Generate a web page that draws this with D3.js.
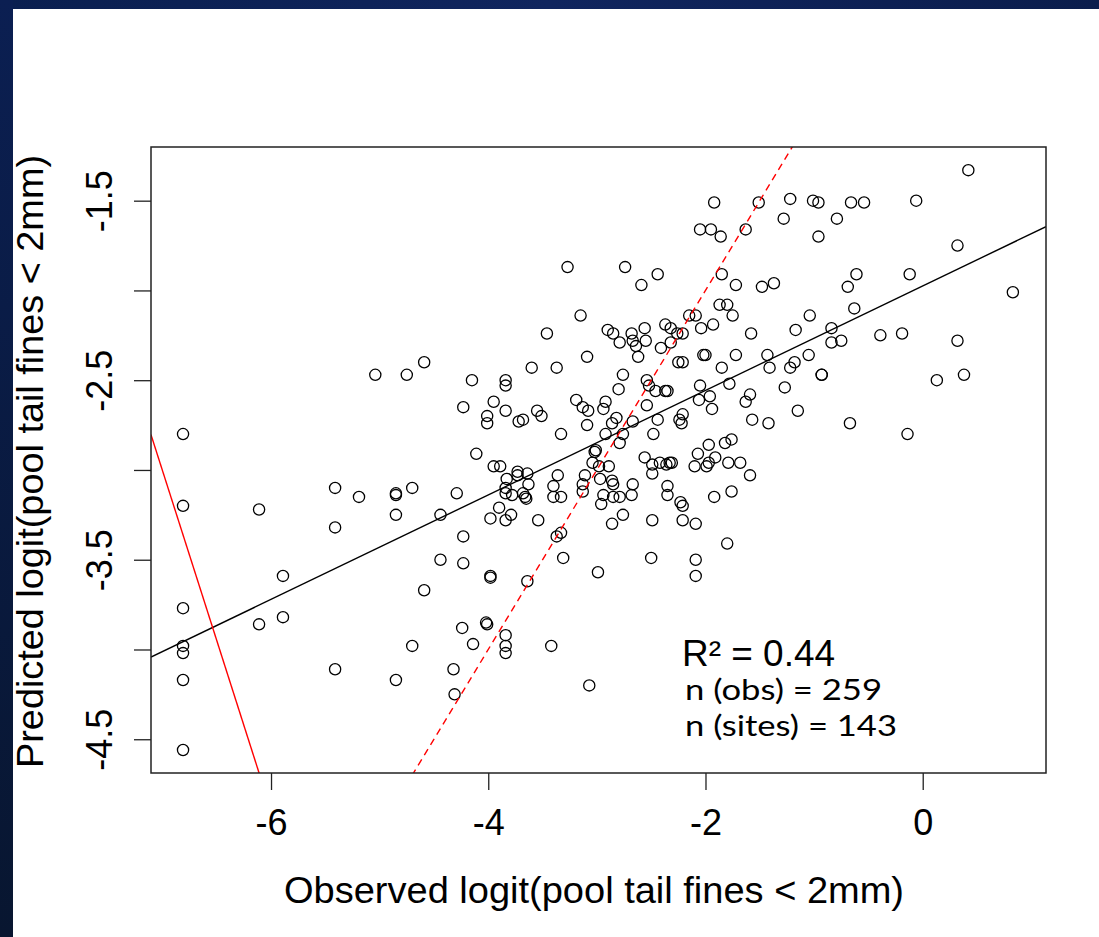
<!DOCTYPE html>
<html>
<head>
<meta charset="utf-8">
<script src="https://cdn.jsdelivr.net/npm/d3@7"></script>
<style>
  html, body { margin: 0; padding: 0; background: #fff; }
  svg { display: block; }
</style>
</head>
<body>
<div id="chart"></div>
<script>
// observed vs predicted logit of pool tail fines

// observed logit (x) for each sample
const observed = [
  -5.04, -4.75, -4.59, -4.15, -4.23, -6.81, -6.81, -6.11, -5.41, -5.19,
  -4.85, -4.85, -4.70, -4.29, -5.41, -4.85, -4.44, -4.23, -4.44, -4.23,
  -5.89, -4.59, -6.81, -6.11, -5.89, -4.24, -4.14, -6.81, -6.81, -4.70,
  -6.81, -5.41, -4.85, -4.32, -4.31, -6.81, -1.92, -1.51, -2.05, -1.95,
  -1.86, -1.63, -3.27, -2.74, -2.44, -2.59, -1.85, -1.72, -1.48, -3.15,
  -1.87, -1.80, -1.75, -2.15, -2.09, -3.46, -2.90, -2.85, -2.68, -2.56,
  -2.79, -2.67, -2.64, -2.55, -2.62, -2.37, -2.32, -2.26, -2.21, -2.04,
  -1.93, -1.58, -2.41, -2.32, -3.09, -2.25, -2.21, -2.02, -2.00, -1.72,
  -1.85, -1.43, -1.41, -3.60, -3.37, -3.84, -3.84, -2.76, -2.80, -2.54,
  -2.52, -2.46, -2.37, -2.35, -2.05, -1.96, -2.06, -1.78, -1.59, -1.63,
  -1.57, -1.94, -1.42, -3.95, -4.01, -4.01, -3.84, -3.72, -3.68, -3.55,
  -3.51, -3.19, -3.13, -3.08, -2.94, -2.92, -3.09, -2.54, -2.82, -2.86,
  -2.67, -2.44, -2.21, -2.24, -2.22, -2.48, -2.92, -2.76, -3.33, -2.79,
  -4.11, -3.01, -3.02, -1.97, -1.82, -1.76, -2.07, -2.56, -3.95, -3.89,
  -3.73, -3.73, -3.64, -3.83, -3.84, -3.63, -3.78, -3.84, -3.68, -3.66,
  -3.65, -3.90, -3.98, -3.84, -3.79, -3.54, -3.36, -3.40, -3.40, -3.33,
  -3.11, -3.13, -3.13, -3.04, -2.98, -2.89, -2.97, -2.86, -2.85, -2.67,
  -2.94, -2.96, -2.85, -2.79, -2.68, -2.76, -2.86, -2.49, -2.42, -2.36,
  -2.33, -2.31, -2.49, -2.35, -2.35, -2.23, -2.21, -2.49, -2.21, -2.09,
  -2.10, -1.99, -1.97, -1.91, -1.79, -1.68, -1.59, -1.92, -1.76, -3.98,
  -3.98, -3.37, -3.33, -3.31, -3.64, -2.99, -2.50, -2.09, -2.09, -1.80,
  -4.02, -4.01, -3.84, -3.84, -3.84, -3.42, -3.07, 0.42, -1.22, -1.01,
  -0.96, -0.66, -0.54, -0.06, -1.28, -0.79, -0.96, 0.32, -0.61, -0.12,
  -0.69, -1.37, 0.83, -0.63, -1.04, -1.17, -0.84, -0.84, -0.75, -0.39,
  -0.19, 0.32, -1.05, -1.22, -1.18, -0.93, -0.93, -1.27, 0.13, 0.38,
  -1.15, -0.67, -0.14
];

// predicted logit (y) for each sample
const predicted = [
  -2.47, -2.47, -2.40, -2.50, -2.65, -2.80, -3.20, -3.22, -3.10, -3.15,
  -3.13, -3.14, -3.10, -3.13, -3.32, -3.25, -3.25, -3.37, -3.50, -3.52,
  -3.59, -3.67, -3.77, -3.86, -3.82, -3.88, -3.97, -3.98, -4.02, -3.98,
  -4.17, -4.11, -4.17, -4.11, -4.25, -4.56, -1.51, -1.51, -1.66, -1.66,
  -1.70, -1.66, -1.87, -1.87, -1.91, -1.97, -1.91, -1.97, -1.98, -2.14,
  -2.08, -2.08, -2.14, -2.14, -2.14, -2.24, -2.22, -2.24, -2.24, -2.21,
  -2.29, -2.28, -2.31, -2.28, -2.37, -2.19, -2.21, -2.24, -2.24, -2.21,
  -2.19, -2.24, -2.32, -2.29, -2.37, -2.40, -2.40, -2.36, -2.36, -2.36,
  -2.43, -2.36, -2.43, -2.43, -2.43, -2.50, -2.53, -2.47, -2.55, -2.50,
  -2.53, -2.56, -2.56, -2.56, -2.53, -2.59, -2.61, -2.52, -2.58, -2.62,
  -2.72, -2.66, -2.74, -2.62, -2.70, -2.74, -2.67, -2.73, -2.72, -2.67,
  -2.70, -2.61, -2.65, -2.67, -2.66, -2.62, -2.75, -2.64, -2.71, -2.74,
  -2.73, -2.72, -2.69, -2.72, -2.74, -2.80, -2.80, -2.80, -2.80, -2.85,
  -2.91, -2.89, -2.90, -2.86, -2.85, -2.83, -2.91, -2.93, -2.98, -2.98,
  -3.01, -3.03, -3.02, -3.05, -3.10, -3.08, -3.14, -3.13, -3.13, -3.15,
  -3.16, -3.21, -3.27, -3.28, -3.25, -3.28, -3.03, -3.09, -3.15, -3.15,
  -3.03, -3.08, -3.12, -2.96, -2.98, -2.98, -3.05, -3.06, -3.08, -3.08,
  -3.14, -3.19, -3.15, -3.15, -3.14, -3.25, -3.30, -2.97, -2.96, -2.97,
  -2.96, -2.96, -3.02, -3.09, -3.14, -3.18, -3.20, -3.28, -3.28, -3.30,
  -2.98, -2.98, -2.96, -2.93, -2.96, -2.96, -3.03, -3.15, -3.12, -3.59,
  -3.60, -3.37, -3.35, -3.49, -3.62, -3.57, -3.49, -3.50, -3.59, -3.41,
  -3.85, -3.86, -3.92, -3.98, -4.02, -3.98, -4.20, -1.33, -1.49, -1.50,
  -1.51, -1.51, -1.51, -1.50, -1.60, -1.60, -1.70, -1.75, -1.91, -1.91,
  -1.98, -1.96, -2.01, -2.10, -2.14, -2.22, -2.21, -2.29, -2.28, -2.25,
  -2.24, -2.28, -2.36, -2.43, -2.40, -2.47, -2.47, -2.54, -2.50, -2.47,
  -2.67, -2.74, -2.80
];

// reference lines: intercept + slope
const lineNames = ["fit", "oneToOne", "other"];
const lineIntercepts = [-1.975, 0, -16.26];
const lineSlopes = [0.291, 1, -1.894];
const lineColors = ["#000000", "#ff0000", "#ff0000"];
const lineDashes = [null, "7,5", null];

const xTicks = [-6, -4, -2, 0];
const yTicks = [-1.5, -2, -2.5, -3, -3.5, -4, -4.5];
const yLabelled = [-1.5, -2.5, -3.5, -4.5];

const annotLines = ["R\u00b2 = 0.44", "n (obs) = 259", "n (sites) = 143"];

const width = 1099, height = 937;
const margin = {left: 151, top: 147, right: 53, bottom: 164};
const innerW = width - margin.left - margin.right;
const innerH = height - margin.top - margin.bottom;

const x = d3.scaleLinear().domain([-7.105, 1.135]).range([0, innerW]);
const y = d3.scaleLinear().domain([-4.688, -1.201]).range([innerH, 0]);

const svg = d3.select("#chart").append("svg")
  .attr("width", width)
  .attr("height", height);

// slide background: white with dark blue frame on top and left
const defs = svg.append("defs");
const gTop = defs.append("linearGradient").attr("id", "bandTop");
gTop.append("stop").attr("offset", "0%").attr("stop-color", "#0a1f4f");
gTop.append("stop").attr("offset", "50%").attr("stop-color", "#10255e");
gTop.append("stop").attr("offset", "100%").attr("stop-color", "#0b1d4c");
const gLeft = defs.append("linearGradient").attr("id", "bandLeft")
  .attr("x1", 0).attr("y1", 0).attr("x2", 0).attr("y2", 1);
gLeft.append("stop").attr("offset", "0%").attr("stop-color", "#0b1f52");
gLeft.append("stop").attr("offset", "100%").attr("stop-color", "#081630");

svg.append("rect").attr("width", width).attr("height", height).attr("fill", "#fff");
svg.append("rect").attr("width", width).attr("height", 9).attr("fill", "url(#bandTop)");
svg.append("rect").attr("width", 13).attr("height", height).attr("fill", "url(#bandLeft)");

defs.append("clipPath").attr("id", "plotClip")
  .append("rect").attr("width", innerW).attr("height", innerH);

const chart = svg.append("g")
  .attr("transform", "translate(" + margin.left + "," + margin.top + ")");

const font = "'Liberation Sans', Arial, Helvetica, sans-serif";

// points
chart.append("g")
  .selectAll("circle")
  .data(observed.map(function(d, i) { return {x: d, y: predicted[i]}; }))
  .enter()
  .append("circle")
  .attr("cx", function(d) { return x(d.x); })
  .attr("cy", function(d) { return y(d.y); })
  .attr("r", 5.6)
  .attr("fill", "none")
  .attr("stroke", "#000")
  .attr("stroke-width", 1.3);

// reference lines, clipped to the plot box
const xd = x.domain();
chart.append("g")
  .attr("clip-path", "url(#plotClip)")
  .selectAll("line")
  .data(lineNames)
  .enter()
  .append("line")
  .attr("x1", x(xd[0]))
  .attr("x2", x(xd[1]))
  .attr("y1", function(d, i) { return y(lineIntercepts[i] + lineSlopes[i] * xd[0]); })
  .attr("y2", function(d, i) { return y(lineIntercepts[i] + lineSlopes[i] * xd[1]); })
  .attr("stroke", function(d, i) { return lineColors[i]; })
  .attr("stroke-width", 1.4)
  .attr("stroke-dasharray", function(d, i) { return lineDashes[i]; });

// box
chart.append("rect")
  .attr("width", innerW)
  .attr("height", innerH)
  .attr("fill", "none")
  .attr("stroke", "#222")
  .attr("stroke-width", 1.5);

// x axis
const xAxis = chart.append("g")
  .attr("transform", "translate(0," + innerH + ")")
  .call(d3.axisBottom(x).tickValues(xTicks).tickSize(17).tickFormat(d3.format("d")));
xAxis.select(".domain").remove();
xAxis.selectAll(".tick line").attr("stroke", "#222").attr("stroke-width", 1.3);
xAxis.selectAll(".tick text")
  .attr("y", 62)
  .attr("dy", 0)
  .attr("fill", "#000")
  .style("font-family", font)
  .style("font-size", "36px")
  .text(function(d) { return d3.format("d")(d).replace("\u2212", "-"); });

// y axis
const yAxis = chart.append("g")
  .call(d3.axisLeft(y).tickValues(yTicks).tickSize(17));
yAxis.select(".domain").remove();
yAxis.selectAll(".tick line").attr("stroke", "#222").attr("stroke-width", 1.3);
yAxis.selectAll(".tick text")
  .attr("x", 0)
  .attr("dy", 0)
  .attr("transform", "translate(-39.5,0) rotate(-90)")
  .attr("text-anchor", "middle")
  .attr("fill", "#000")
  .style("font-family", font)
  .style("font-size", "36px")
  .text(function(d) { return yLabelled.indexOf(d) >= 0 ? String(d) : ""; });

// axis titles
svg.append("text")
  .attr("x", 594)
  .attr("y", 902.5)
  .attr("text-anchor", "middle")
  .attr("textLength", 620)
  .attr("lengthAdjust", "spacingAndGlyphs")
  .style("font-family", font)
  .style("font-size", "37px")
  .text("Observed logit(pool tail fines < 2mm)");

svg.append("text")
  .attr("transform", "translate(43,461.5) rotate(-90)")
  .attr("text-anchor", "middle")
  .attr("textLength", 613)
  .attr("lengthAdjust", "spacingAndGlyphs")
  .style("font-family", font)
  .style("font-size", "37px")
  .text("Predicted logit(pool tail fines < 2mm)");

// annotation block
const annot = svg.append("g");
annot.append("text")
  .attr("x", 682)
  .attr("y", 665.5)
  .attr("textLength", 153)
  .attr("lengthAdjust", "spacingAndGlyphs")
  .style("font-family", font)
  .style("font-size", "36px")
  .text(annotLines[0]);
annot.selectAll("text.n")
  .data(annotLines.slice(1))
  .enter()
  .append("text")
  .attr("class", "n")
  .attr("x", 685)
  .attr("y", function(d, i) { return 700 + i * 36; })
  .attr("textLength", function(d, i) { return i === 0 ? 197 : 212; })
  .attr("lengthAdjust", "spacingAndGlyphs")
  .style("font-family", "Lato, 'Open Sans', sans-serif")
  .style("font-size", "28px")
  .text(function(d) { return d; });
</script>
</body>
</html>
